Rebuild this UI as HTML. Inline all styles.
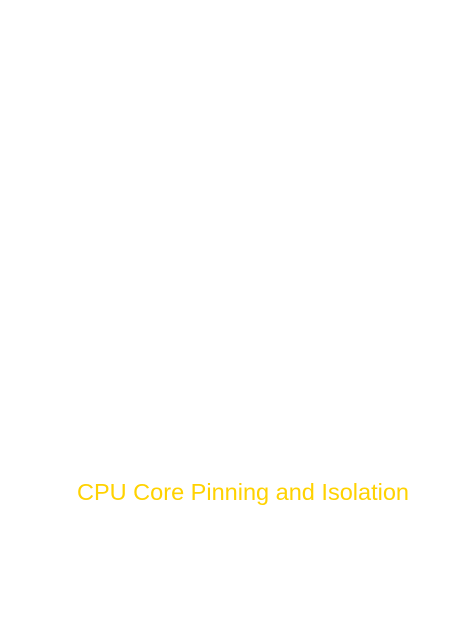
<!DOCTYPE html>
<html><head><meta charset="utf-8"><style>
html,body{margin:0;padding:0;background:#fff;width:470px;height:640px;overflow:hidden}
svg{display:block}
</style></head><body>
<svg width="470" height="640" xmlns="http://www.w3.org/2000/svg">
<rect width="470" height="640" fill="#ffffff"/>
<text x="77" y="500" font-family="Liberation Sans, sans-serif" font-size="23" fill="#FFD200" textLength="332" lengthAdjust="spacingAndGlyphs">CPU Core Pinning and Isolation</text>
</svg>
</body></html>
